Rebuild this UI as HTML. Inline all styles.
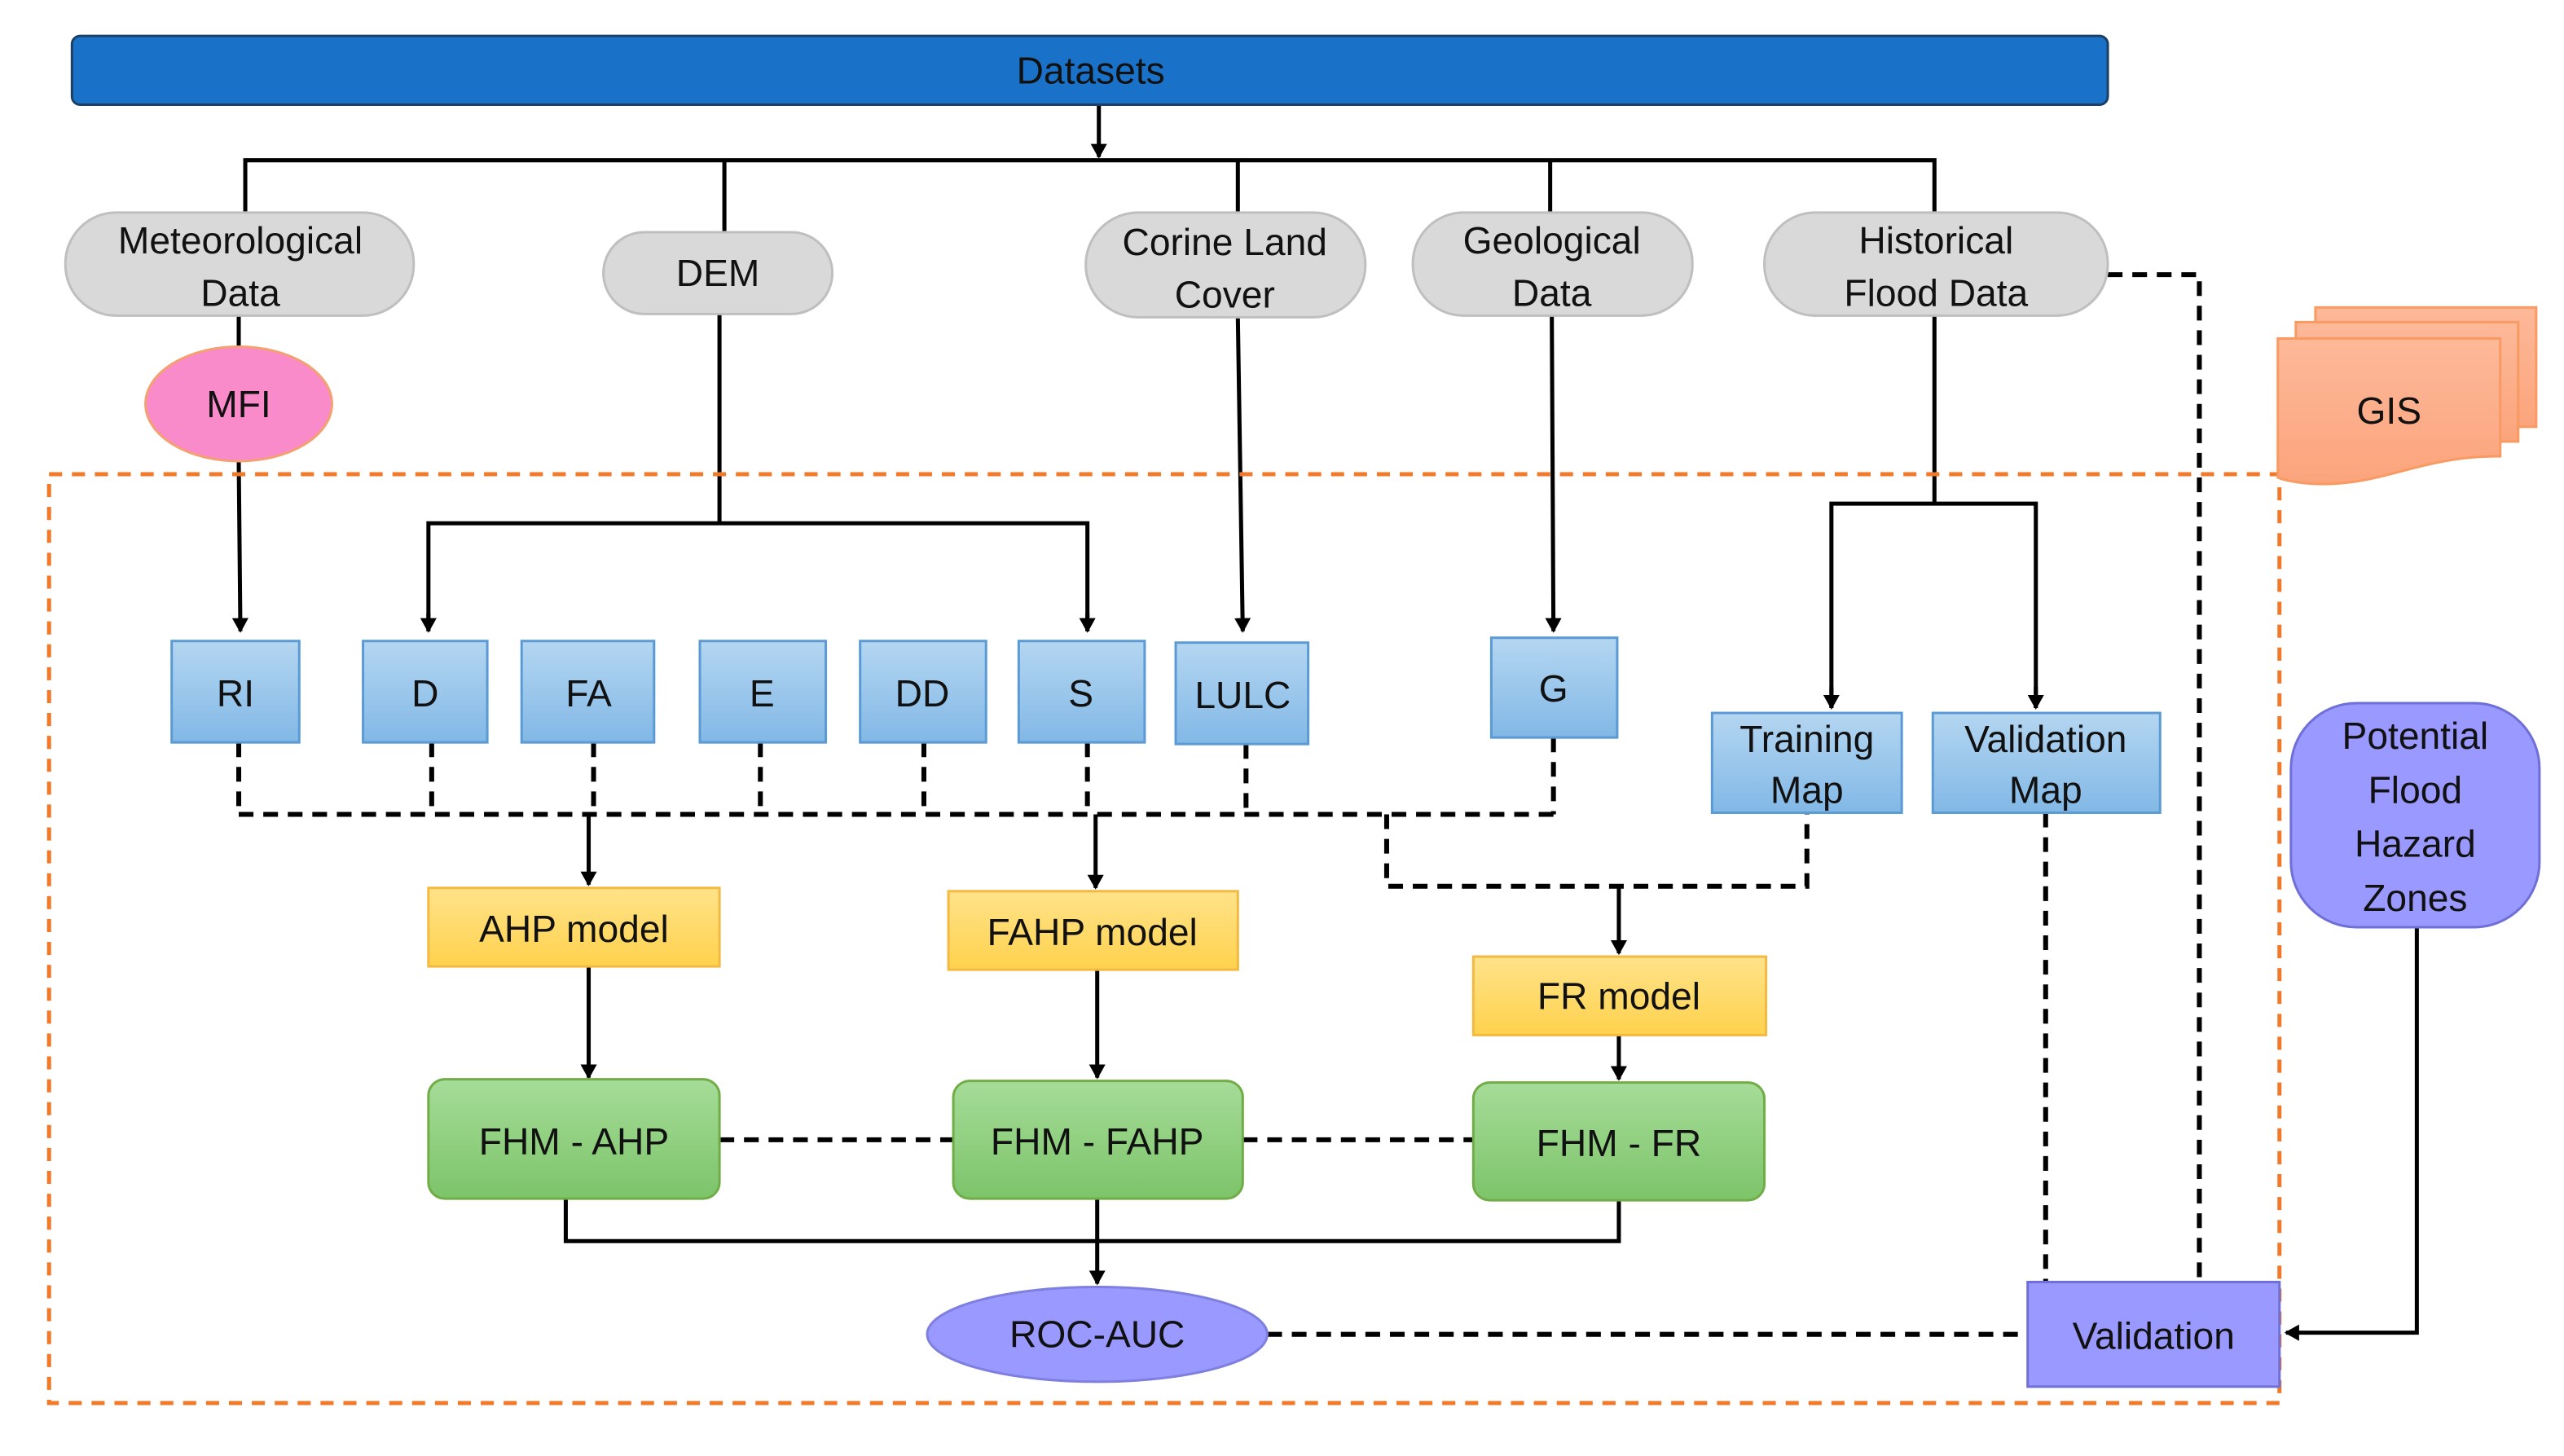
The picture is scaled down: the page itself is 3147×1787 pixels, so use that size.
<!DOCTYPE html>
<html><head><meta charset="utf-8"><style>
html,body{margin:0;padding:0;background:#fff;}
svg{display:block;}
text{font-family:"Liberation Sans","DejaVu Sans",sans-serif;font-size:23px;fill:#111;text-anchor:middle;}
</style></head><body>
<svg width="3147" height="1787" viewBox="0 0 1568 890.4" preserveAspectRatio="none" xmlns="http://www.w3.org/2000/svg">
<defs>
<marker id="ar" markerWidth="10" markerHeight="10" refX="8" refY="5" orient="auto" markerUnits="userSpaceOnUse"><path d="M0,0 L9,5 L0,10 Z" fill="#000"/></marker>
<linearGradient id="bl" x1="0" y1="0" x2="0" y2="1"><stop offset="0" stop-color="#b4d6f1"/><stop offset="1" stop-color="#82b8e6"/></linearGradient>
<linearGradient id="ye" x1="0" y1="0" x2="0" y2="1"><stop offset="0" stop-color="#ffe38a"/><stop offset="1" stop-color="#ffd24d"/></linearGradient>
<linearGradient id="gr" x1="0" y1="0" x2="0" y2="1"><stop offset="0" stop-color="#a6dc98"/><stop offset="1" stop-color="#7cc46a"/></linearGradient>
<linearGradient id="or" x1="0" y1="0" x2="0" y2="1"><stop offset="0" stop-color="#fdb999"/><stop offset="1" stop-color="#fba47c"/></linearGradient>
</defs>
<g stroke="#000" stroke-width="2.5" fill="none">
<line x1="672" y1="64" x2="672" y2="96" marker-end="url(#ar)"/>
<polyline points="150,130 150,98 1183,98 1183,130"/>
<line x1="443" y1="98" x2="443" y2="142"/>
<line x1="757" y1="98" x2="757" y2="130"/>
<line x1="948" y1="98" x2="948" y2="130"/>
<line x1="146" y1="193" x2="146" y2="212"/>
<line x1="146" y1="282" x2="147" y2="386" marker-end="url(#ar)"/>
<line x1="440" y1="192" x2="440" y2="320"/>
<polyline points="262,386 262,320 665,320 665,386" />
<line x1="262" y1="375" x2="262" y2="386" marker-end="url(#ar)"/>
<line x1="665" y1="375" x2="665" y2="386" marker-end="url(#ar)"/>
<line x1="757" y1="194" x2="760" y2="386" marker-end="url(#ar)"/>
<line x1="949" y1="193" x2="950" y2="386" marker-end="url(#ar)"/>
<polyline points="1183,193 1183,308"/>
<polyline points="1120,433 1120,308 1245,308 1245,433"/>
<line x1="1120" y1="420" x2="1120" y2="433" marker-end="url(#ar)"/>
<line x1="1245" y1="420" x2="1245" y2="433" marker-end="url(#ar)"/>
<line x1="360" y1="498" x2="360" y2="541" marker-end="url(#ar)"/>
<line x1="670" y1="498" x2="670" y2="543" marker-end="url(#ar)"/>
<line x1="990" y1="542" x2="990" y2="583" marker-end="url(#ar)"/>
<line x1="360" y1="591" x2="360" y2="659" marker-end="url(#ar)"/>
<line x1="671" y1="593" x2="671" y2="659" marker-end="url(#ar)"/>
<line x1="990" y1="633" x2="990" y2="660" marker-end="url(#ar)"/>
<polyline points="346,733 346,759 990,759 990,734"/>
<line x1="671" y1="733" x2="671" y2="785" marker-end="url(#ar)"/>
<polyline points="1478,567 1478,815 1398,815" marker-end="url(#ar)"/>
</g>
<g stroke="#000" stroke-width="3" fill="none" stroke-dasharray="9,6">
<polyline points="1289,168 1345,168 1345,784"/>
<line x1="146" y1="454" x2="146" y2="498"/><line x1="264" y1="454" x2="264" y2="498"/>
<line x1="363" y1="454" x2="363" y2="498"/><line x1="465" y1="454" x2="465" y2="498"/>
<line x1="565" y1="454" x2="565" y2="498"/><line x1="665" y1="454" x2="665" y2="498"/>
<line x1="762" y1="455" x2="762" y2="498"/><line x1="950" y1="451" x2="950" y2="498"/>
<line x1="146" y1="498" x2="950" y2="498"/>
<polyline points="848,498 848,542 1105,542 1105,497"/>
<line x1="440" y1="697" x2="583" y2="697"/>
<line x1="760" y1="697" x2="901" y2="697"/>
<line x1="1251" y1="497" x2="1251" y2="784"/>
<line x1="775" y1="816" x2="1240" y2="816"/>
</g>
<rect x="30" y="290" width="1364" height="568" fill="none" stroke="#f07a2a" stroke-width="2.5" stroke-dasharray="8,6"/>
<rect x="44" y="22" width="1245" height="42" rx="5" fill="#1a72c8" stroke="#1c3f66" stroke-width="1.5"/>
<text x="667" y="51">Datasets</text>
<g fill="#d9d9d9" stroke="#bfbfbf" stroke-width="1.5">
<rect x="40" y="130" width="213" height="63" rx="31"/>
<rect x="369" y="142" width="140" height="50" rx="25"/>
<rect x="664" y="130" width="171" height="64" rx="32"/>
<rect x="864" y="130" width="171" height="63" rx="31"/>
<rect x="1079" y="130" width="210" height="63" rx="31"/>
</g>
<text x="147" y="155">Meteorological</text><text x="147" y="187">Data</text>
<text x="439" y="175">DEM</text>
<text x="749" y="156">Corine Land</text><text x="749" y="188">Cover</text>
<text x="949" y="155">Geological</text><text x="949" y="187">Data</text>
<text x="1184" y="155">Historical</text><text x="1184" y="187">Flood Data</text>
<ellipse cx="146" cy="247" rx="57" ry="35" fill="#f98bcb" stroke="#f4a070" stroke-width="1.5"/>
<text x="146" y="255">MFI</text>
<g fill="url(#or)" stroke="#f89a62" stroke-width="1.5">
<rect x="1416" y="188" width="135" height="73"/>
<rect x="1404" y="197" width="136" height="73"/>
<path d="M1393,207 L1529,207 L1529,279 C1480,279 1460,296 1420,296 C1405,296 1395,293 1393,292 Z"/>
</g>
<text x="1461" y="259">GIS</text>
<g fill="url(#bl)" stroke="#5b9bd5" stroke-width="1.5">
<rect x="105" y="392" width="78" height="62"/>
<rect x="222" y="392" width="76" height="62"/>
<rect x="319" y="392" width="81" height="62"/>
<rect x="428" y="392" width="77" height="62"/>
<rect x="526" y="392" width="77" height="62"/>
<rect x="623" y="392" width="77" height="62"/>
<rect x="719" y="393" width="81" height="62"/>
<rect x="912" y="390" width="77" height="61"/>
<rect x="1047" y="436" width="116" height="61"/>
<rect x="1182" y="436" width="139" height="61"/>
</g>
<text x="144" y="432">RI</text><text x="260" y="432">D</text><text x="360" y="432">FA</text>
<text x="466" y="432">E</text><text x="564" y="432">DD</text><text x="661" y="432">S</text>
<text x="760" y="433">LULC</text><text x="950" y="429">G</text>
<text x="1105" y="460">Training</text><text x="1105" y="491">Map</text>
<text x="1251" y="460">Validation</text><text x="1251" y="491">Map</text>
<g fill="url(#ye)" stroke="#f4b942" stroke-width="1.5">
<rect x="262" y="543" width="178" height="48"/>
<rect x="580" y="545" width="177" height="48"/>
<rect x="901" y="585" width="179" height="48"/>
</g>
<text x="351" y="576">AHP model</text><text x="668" y="578">FAHP model</text><text x="990" y="617">FR model</text>
<g fill="url(#gr)" stroke="#70ad47" stroke-width="1.5">
<rect x="262" y="660" width="178" height="73" rx="10"/>
<rect x="583" y="661" width="177" height="72" rx="10"/>
<rect x="901" y="662" width="178" height="72" rx="10"/>
</g>
<text x="351" y="706">FHM - AHP</text><text x="671" y="706">FHM - FAHP</text><text x="990" y="707">FHM - FR</text>
<ellipse cx="671" cy="816" rx="104" ry="29" fill="#9999ff" stroke="#7f7fe0" stroke-width="1.5"/>
<text x="671" y="824">ROC-AUC</text>
<rect x="1240" y="784" width="154" height="64" fill="#9999ff" stroke="#6f6fd8" stroke-width="1.5"/>
<text x="1317" y="825">Validation</text>
<rect x="1401" y="430" width="152" height="137" rx="40" fill="#9999ff" stroke="#6f6fd8" stroke-width="1.5"/>
<text x="1477" y="458">Potential</text><text x="1477" y="491">Flood</text><text x="1477" y="524">Hazard</text><text x="1477" y="557">Zones</text>
</svg>
</body></html>
